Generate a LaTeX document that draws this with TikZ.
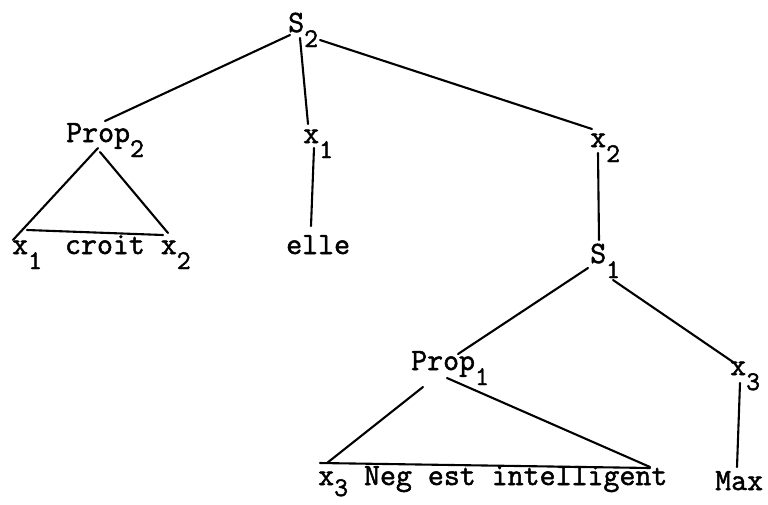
\documentclass[tikz,border=0pt]{standalone}
\usepackage{fontspec}
\newfontfamily\tyw{Latin Modern Mono}[FakeBold=1.6]
\usetikzlibrary{calc}
\newcommand\sbs[2][-15pt]{\raisebox{#1}{\fontsize{27}{27}\selectfont #2}}
\begin{document}
\begin{tikzpicture}[x=1pt,y=-1pt,
  lab/.style={inner sep=0pt, anchor=base west, font=\fontsize{31}{33}\selectfont\tyw},
  edge/.style={line width=2.1pt, line cap=round}]
\useasboundingbox (0,0) rectangle (768,504);
% labels
\node[lab] (S2) at (288,32) {S\sbs{2}};
\node[lab] (P2) at (66,142) {Prop\sbs{2}};
\node[lab] (X1) at (303,143) {x\sbs{1}};
\node[lab] (X2) at (590,147) {x\sbs{2}};
\node[lab] (L2) at (12,254) {x\sbs{1}\hspace{7pt} croit x\sbs{2}};
\node[lab] (E) at (286,254) {elle};
\node[lab] (S1) at (590,263) {S\sbs{1}};
\node[lab] (P1) at (411,370) {Prop\sbs{1}};
\node[lab] (X3) at (730,375) {x\sbs{3}};
\node[lab] (L1) at (318,485) {x\sbs[-11pt]{3} Neg est intelligent};
\node[lab] (M) at (715,490) {Max};
% connectors
\draw[edge] ($(S2.base west)+(2,3)$) -- ($(P2.base west)+(39,-21)$);
\draw[edge] ($(S2.base west)+(12,6)$) -- ($(X1.base west)+(5,-19)$);
\draw[edge] ($(S2.base west)+(32,8)$) -- ($(X2.base west)+(2,-18)$);
\draw[edge] ($(X1.base west)+(11,5)$) -- ($(E.base west)+(25,-28)$);
\draw[edge] ($(P2.base west)+(32,6)$) -- ($(L2.base west)+(1,-14)$);
\draw[edge] ($(P2.base west)+(34,10)$) -- ($(L2.base west)+(156,-21)$);
\draw[edge] ($(L2.base west)+(15,-24)$) -- ($(L2.base west)+(151,-19)$);
\draw[edge] ($(X2.base west)+(8,6)$) -- ($(S1.base west)+(9,-23)$);
\draw[edge] ($(S1.base west)+(-2,5)$) -- ($(P1.base west)+(47,-16)$);
\draw[edge] ($(S1.base west)+(23,17)$) -- ($(X3.base west)+(3,-13)$);
\draw[edge] ($(P1.base west)+(12,17)$) -- ($(L1.base west)+(9,-22)$);
\draw[edge] ($(P1.base west)+(36,8)$) -- ($(L1.base west)+(332,-18)$);
\draw[edge] ($(L1.base west)+(2,-22)$) -- ($(L1.base west)+(332,-17)$);
\draw[edge] ($(X3.base west)+(10,8)$) -- ($(M.base west)+(22,-23)$);
\end{tikzpicture}
\end{document}
